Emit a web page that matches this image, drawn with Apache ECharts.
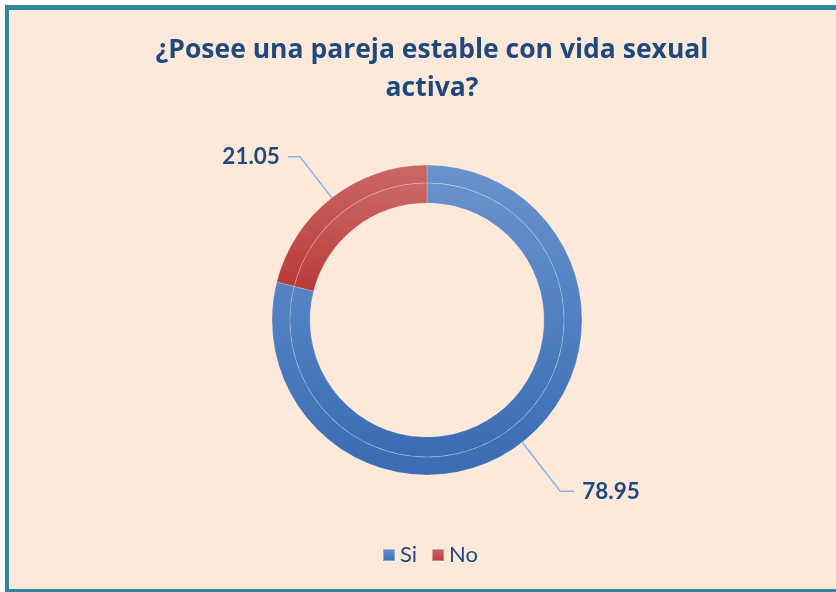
<!DOCTYPE html>
<html><head><meta charset="utf-8">
<script src="https://cdn.jsdelivr.net/npm/echarts@6/dist/echarts.min.js"></script>
<style>html,body{margin:0;padding:0;background:#fff;overflow:hidden;}#c{width:836px;height:592px;}</style>
</head><body><div id="c"></div>
<script>
const categories = ['Si', 'No'];
const values = [78.95, 21.05];
const titleText = '¿Posee una pareja estable con vida sexual\nactiva?';

const grad = {
  Si: ['#6892CD', '#3A6CB3'],
  No: ['#CB6866', '#B83A37']
};
const lineLen = {Si: [62, 14], No: [52, 12]};
function mk(i) {
  const c = grad[categories[i]];
  return {type: 'linear', x: 0, y: 0, x2: 0, y2: 1, colorStops: [{offset: 0, color: c[0]}, {offset: 1, color: c[1]}]};
}
const outerData = categories.map((n, i) => ({
  name: n, value: values[i], itemStyle: {color: mk(i)},
  labelLine: {length: lineLen[n][0], length2: lineLen[n][1]}
}));
const innerData = categories.map((n, i) => ({name: n, value: values[i], itemStyle: {color: mk(i)}}));

const chart = echarts.init(document.getElementById('c'), null, {renderer: 'canvas'});
chart.setOption({
  backgroundColor: '#FDE9DA',
  animation: false,
  graphic: [
    {type: 'rect', z: 100, shape: {x: 0, y: 0, width: 836, height: 5}, style: {fill: '#FFFFFF'}},
    {type: 'rect', z: 100, shape: {x: 0, y: 0, width: 5, height: 592}, style: {fill: '#FFFFFF'}},
    {type: 'rect', z: 100, shape: {x: 5, y: 5, width: 831, height: 5}, style: {fill: '#31859C'}},
    {type: 'rect', z: 100, shape: {x: 5, y: 5, width: 4, height: 587}, style: {fill: '#31859C'}},
    {type: 'rect', z: 100, shape: {x: 5, y: 589, width: 831, height: 3}, style: {fill: '#31859C'}}
  ],
  title: {
    text: titleText, left: 427, top: 26, textAlign: 'center',
    textStyle: {fontFamily: 'Open Sans', fontWeight: 'bold', fontSize: 26.5, color: '#1F497D', lineHeight: 38}
  },
  legend: {
    data: categories, bottom: 21, left: 377, icon: 'rect', itemWidth: 12, itemHeight: 12, itemGap: 14,
    textStyle: {fontFamily: 'Lato', fontSize: 22, color: '#1F497D'}
  },
  series: [
    {
      type: 'pie', center: [427, 320], radius: [137, 155], startAngle: 90, clockwise: true,
      data: outerData, silent: true,
      itemStyle: {borderColor: 'rgba(255,255,255,0.35)', borderWidth: 0.6},
      label: {show: true, position: 'outside', formatter: p => p.value.toFixed(2),
        fontFamily: 'Lato', fontWeight: 'bold', fontSize: 22.5, color: '#1F497D', padding: [0, 3]},
      labelLine: {show: true, smooth: false, lineStyle: {color: '#8DB3E2', width: 1.5}}
    },
    {
      type: 'pie', center: [427, 320], radius: [117, 137], startAngle: 90, clockwise: true,
      data: innerData, silent: true,
      itemStyle: {borderColor: 'rgba(255,255,255,0.35)', borderWidth: 0.6},
      label: {show: false}, labelLine: {show: false}
    }
  ]
});
</script></body></html>
